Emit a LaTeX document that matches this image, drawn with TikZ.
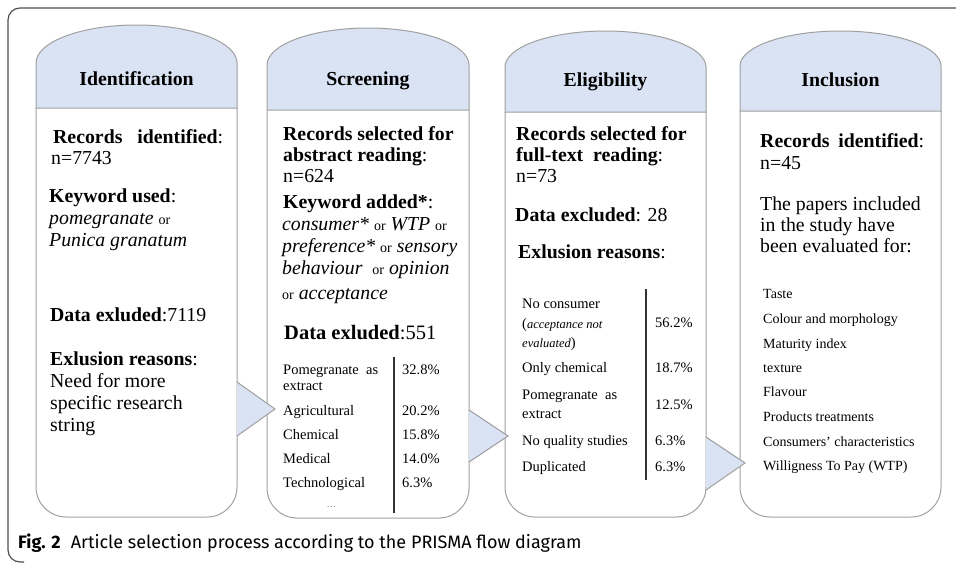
\documentclass[tikz,border=0pt]{standalone}
\usepackage{fontspec}
\setmainfont{Liberation Serif}
\newfontfamily\capfont{Fira Sans}
\definecolor{headblue}{HTML}{DAE3F3}
\definecolor{edgegray}{HTML}{A0A0A0}
\definecolor{framegray}{HTML}{505050}
\newcommand\mainsz{\fontsize{19.8}{22}\selectfont}
\newcommand\tabsz{\fontsize{14.5}{16}\selectfont}
\newcommand\listsz{\fontsize{14}{16}\selectfont}
\newcommand\orw{{\fontsize{14}{16}\selectfont or}}
\newcommand\tinyit[1]{{\fontsize{12.5}{14}\selectfont\itshape #1}}

\tikzset{
  ln/.style={anchor=base west, inner sep=0pt, font=\mainsz},
  tab/.style={anchor=base west, inner sep=0pt, font=\tabsz},
  lst/.style={anchor=base west, inner sep=0pt, font=\listsz},
  ttl/.style={anchor=base, inner sep=0pt, font=\mainsz\bfseries},
  hdr/.style={fill=headblue, draw=edgegray, line width=1pt},
  body/.style={fill=white, draw=edgegray, line width=1pt, rounded corners=30pt},
  pointer/.style={fill=headblue, draw=edgegray, line width=1pt},
}

% one stage column: left, right, apex, shoulder, header bottom, bottom
\newcommand\stagebox[6]{
  \draw[body] (#1,#5) -- (#1,#6) -- (#2,#6) -- (#2,#5);
  \filldraw[hdr] (#1,#5) -- (#1,#4)
    arc[start angle=180, end angle=360, x radius={(#2-#1)/2}, y radius={#4-#3}]
    -- (#2,#5) -- cycle;
}

\begin{document}
\begin{tikzpicture}[x=1pt, y=-1pt]
\useasboundingbox (0,0) rectangle (956,563);
\fill[white] (0,0) rectangle (956,563);

% outer frame
\draw[framegray, line width=1.2pt, rounded corners=12pt] (958,8) -- (8,8) -- (8,562) -- (24,562);

\stagebox{36}{237}{25}{63}{108}{517}
\stagebox{267}{469}{28}{65}{110}{518}
\stagebox{505}{706}{31}{67}{112}{517}
\stagebox{740}{941}{31}{66}{111}{517}

\node[ttl] (t1) at (136.5,85) {Identification};
\node[ttl] (t2) at (368,85) {Screening};
\node[ttl] (t3) at (605.5,86) {Eligibility};
\node[ttl] (t4) at (840.5,86) {Inclusion};

% identification
\node[ln] (a1) at (53,143) {\makebox[170pt][l]{\textbf{Records}\hfill\textbf{identified}:}};
\node[ln] (a2) at (51,164) {n=7743};
\node[ln] (a3) at (49,202) {\textbf{Keyword used}:};
\node[ln] (a4) at (49,224) {\textit{pomegranate} \orw};
\node[ln] (a5) at (49,246) {\textit{Punica granatum}};
\node[ln] (a6) at (50,321) {\textbf{Data exluded}:7119};
\node[ln] (a7) at (50,365) {\textbf{Exlusion reasons}:};
\node[ln] (a8) at (50,387) {Need for more};
\node[ln] (a9) at (50,409) {specific research};
\node[ln] (a10) at (50,431) {string};

% screening
\node[ln] (b1) at (283,140) {\textbf{Records selected for}};
\node[ln] (b2) at (283,161) {\textbf{abstract reading}:};
\node[ln] (b3) at (283,182) {n=624};
\node[ln] (b4) at (283,208) {\textbf{Keyword added*}:};
\node[ln] (b5) at (282,230) {\textit{consumer*} \orw\ \textit{WTP} \orw};
\node[ln] (b6) at (282,252) {\textit{preference*} \orw\ \textit{sensory}};
\node[ln] (b7) at (282,274) {\textit{behaviour}\ \ \orw\ \textit{opinion}};
\node[ln] (b8) at (282,299) {\orw\ \textit{acceptance}};
\node[ln, font=\fontsize{20.5}{22}\selectfont] (b9) at (284,339) {\textbf{Data exluded}:551};
\node[tab] (b10) at (283,374) {Pomegranate\ \ as};
\node[tab] (b11) at (283,390) {extract};
\node[tab] (b12) at (283,415) {Agricultural};
\node[tab] (b13) at (283,439) {Chemical};
\node[tab] (b14) at (283,463) {Medical};
\node[tab] (b15) at (283,487) {Technological};
\node[tab, font=\fontsize{9}{10}\selectfont, text=black!60] (b16) at (327,507) {.\kern1pt.\kern1pt.};
\node[tab] (p1) at (402,374) {32.8\%};
\node[tab] (p2) at (402,415) {20.2\%};
\node[tab] (p3) at (402,439) {15.8\%};
\node[tab] (p4) at (402,463) {14.0\%};
\node[tab] (p5) at (402,487) {6.3\%};
\draw[line width=1.3pt, black!80] (394,357) -- (394,513);

% eligibility
\node[ln] (c1) at (516,140) {\textbf{Records selected for}};
\node[ln] (c2) at (516,161) {\textbf{full-text}\ \ \textbf{reading}:};
\node[ln] (c3) at (516,182) {n=73};
\node[ln] (c4) at (515,221) {\textbf{Data excluded}: 28};
\node[ln] (c5) at (518,258) {\textbf{Exlusion reasons}:};
\node[tab] (c6) at (522,308) {No consumer};
\node[tab] (c7) at (522,328) {(\tinyit{acceptance not}};
\node[tab] (c8) at (522,347) {\tinyit{evaluated})};
\node[tab] (c9) at (522,372) {Only\ chemical};
\node[tab] (c10) at (522,399) {Pomegranate\ \ as};
\node[tab] (c11) at (522,418) {extract};
\node[tab] (c12) at (522,445) {No quality\ studies};
\node[tab] (c13) at (522,471) {Duplicated};
\node[tab] (q1) at (655,327) {56.2\%};
\node[tab] (q2) at (655,372) {18.7\%};
\node[tab] (q3) at (655,409) {12.5\%};
\node[tab] (q4) at (655,445) {6.3\%};
\node[tab] (q5) at (655,471) {6.3\%};
\draw[line width=1.3pt, black!80] (646,289) -- (646,480);

% inclusion
\node[ln] (d1) at (760,147) {\makebox[164pt][l]{\textbf{Records}\hfill\textbf{identified}:}};
\node[ln] (d2) at (760,169) {n=45};
\node[ln] (d3) at (760,210) {The papers included};
\node[ln] (d4) at (760,231) {in the study have};
\node[ln] (d5) at (760,252) {been evaluated for:};
\node[lst] (e1) at (763,298) {Taste};
\node[lst] (e2) at (763,323) {Colour\ and\ morphology};
\node[lst] (e3) at (763,348) {Maturity\ index};
\node[lst] (e4) at (763,372) {texture};
\node[lst] (e5) at (763,396) {Flavour};
\node[lst] (e6) at (763,421) {Products\ treatments};
\node[lst] (e7) at (763,446) {Consumers'\ characteristics};
\node[lst] (e8) at (763,470) {Willigness\ To\ Pay\ (WTP)};

% pointers between stages
\coordinate (tip1) at (275,409);
\coordinate (tip2) at (508,436);
\coordinate (tip3) at (745,463);
\filldraw[pointer] (237,382) -- (tip1) -- (237,436);
\filldraw[pointer] (469,410) -- (tip2) -- (469,462);
\filldraw[pointer] (706,437) -- (tip3) -- (706,490);

% caption
\node[anchor=base west, inner sep=0pt, font=\capfont\fontsize{18}{20}\selectfont] (cap) at (18,548)
  {\textbf{Fig. 2}\hspace{10pt}Article selection process according to the PRISMA flow diagram};
\end{tikzpicture}
\end{document}
